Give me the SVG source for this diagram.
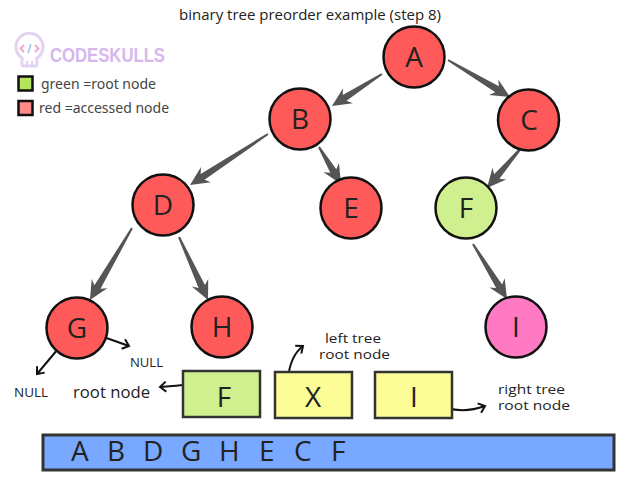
<svg xmlns="http://www.w3.org/2000/svg" width="640" height="480" viewBox="0 0 640 480">
<style>
.node{stroke:#111;stroke-width:2.5}
.red{fill:#ff5a5a}
.green{fill:#d0f090}
.pink{fill:#ff7ac2}
.lt{font-family:"Open Sans","Noto Sans",sans-serif;font-size:28px;fill:#222;text-anchor:middle}
.arr{fill:#555}
.thin{fill:none;stroke:#111;stroke-width:2}
.lbl{font-family:"Open Sans","Noto Sans",sans-serif;fill:#222}
.leg{font-family:"Noto Sans","Open Sans",sans-serif;font-size:14px;fill:#444}
.box{stroke:#333;stroke-width:2.5}
</style>
<defs>
<marker id="v" markerUnits="userSpaceOnUse" markerWidth="14" markerHeight="14" viewBox="-8 -7 10 14" refX="0" refY="0" orient="auto">
<path d="M-6,-5 L0,0 L-6,5" fill="none" stroke="#111" stroke-width="2"/>
</marker>
</defs>
<rect width="640" height="480" fill="#fff"/>
<text x="310" y="20" class="lbl" font-size="15" text-anchor="middle">binary tree preorder example (step 8)</text>
<g id="logo">
<path d="M22,58 A13.5,13.5 0 1 1 37,58 L37,64 Q37,66 35,66 L24,66 Q22,66 22,64 Z" fill="none" stroke="#e3d2f2" stroke-width="3"/>
<path d="M27,61 L27,66 M32,61 L32,66" stroke="#e3d2f2" stroke-width="2"/>
<path d="M24,45 L20.5,48.5 L24,52 M35,45 L38.5,48.5 L35,52" fill="none" stroke="#f6a6cf" stroke-width="2"/>
<path d="M31,44 L28,53" stroke="#9cc0ee" stroke-width="1.5"/>
<text x="50" y="62" font-family="Liberation Sans,sans-serif" font-size="20" font-weight="bold" fill="#d6b8ec" textLength="115" lengthAdjust="spacingAndGlyphs">CODESKULLS</text>
</g>
<g id="legend">
<rect x="18.5" y="76.5" width="14" height="14" fill="#b5e35a" stroke="#111" stroke-width="2.5"/>
<text x="41" y="89" class="leg">green =root node</text>
<rect x="18.5" y="101" width="14" height="14" fill="#ff8a8a" stroke="#111" stroke-width="2.5"/>
<text x="39" y="113" class="leg" font-size="13.5">red =accessed node</text>
</g>
<g id="connectors">
<polygon class="arr" transform="translate(382,74) rotate(147.4)" points="0,-1 44.4,-3.5 40.4,-9 59.4,0 40.4,9 44.4,3.5 0,1"/>
<polygon class="arr" transform="translate(448,60) rotate(30.8)" points="0,-1 57.2,-3.5 53.2,-9 72.2,0 53.2,9 57.2,3.5 0,1"/>
<polygon class="arr" transform="translate(522,147) rotate(130.5)" points="0,-1 38.9,-3.5 34.9,-9 53.9,0 34.9,9 38.9,3.5 0,1"/>
<polygon class="arr" transform="translate(319,147) rotate(59.3)" points="0,-1 28,-3.5 24,-9 43,0 24,9 28,3.5 0,1"/>
<polygon class="arr" transform="translate(268,134) rotate(146.8)" points="0,-1 78.2,-3.5 74.2,-9 93.2,0 74.2,9 78.2,3.5 0,1"/>
<polygon class="arr" transform="translate(132,228) rotate(120.3)" points="0,-1 68.4,-3.5 64.4,-9 83.4,0 64.4,9 68.4,3.5 0,1"/>
<polygon class="arr" transform="translate(179,237) rotate(65.3)" points="0,-1 54.4,-3.5 50.4,-9 69.4,0 50.4,9 54.4,3.5 0,1"/>
<polygon class="arr" transform="translate(473,244) rotate(58.3)" points="0,-1 49.7,-3.5 45.7,-9 64.7,0 45.7,9 49.7,3.5 0,1"/>
<path class="thin" d="M98,335 L129,346" marker-end="url(#v)"/>
<path class="thin" d="M63,343 L37,374" marker-end="url(#v)"/>
<path class="thin" d="M192,384 Q176,386 160,387" marker-end="url(#v)"/>
<path class="thin" d="M288,380 C289,365 294,353 303,346" marker-end="url(#v)"/>
<path class="thin" d="M447,408 C461,412 474,410 485,406" marker-end="url(#v)"/>
</g>
<g id="node-A"><circle class="node red" cx="414" cy="57" r="30.5"/><text class="lt" x="414" y="67">A</text></g>
<g id="node-B"><circle class="node red" cx="300" cy="119" r="30.5"/><text class="lt" x="300" y="129">B</text></g>
<g id="node-C"><circle class="node red" cx="528.5" cy="120" r="30.5"/><text class="lt" x="529" y="130">C</text></g>
<g id="node-D"><circle class="node red" cx="163" cy="205" r="30.5"/><text class="lt" x="163" y="215">D</text></g>
<g id="node-E"><circle class="node red" cx="351" cy="208" r="30.5"/><text class="lt" x="351" y="218">E</text></g>
<g id="node-F"><circle class="node green" cx="466" cy="208" r="30.5"/><text class="lt" x="466" y="218">F</text></g>
<g id="node-G"><circle class="node red" cx="77" cy="328" r="30.5"/><text class="lt" x="77" y="338">G</text></g>
<g id="node-H"><circle class="node red" cx="222" cy="327" r="30.5"/><text class="lt" x="222" y="337">H</text></g>
<g id="node-I"><circle class="node pink" cx="516" cy="327" r="30.5"/><text class="lt" x="516" y="337">I</text></g>
<text x="130" y="367" class="lbl" font-size="12.5" textLength="33" lengthAdjust="spacingAndGlyphs">NULL</text>
<text x="14" y="397" class="lbl" font-size="12.5" textLength="34" lengthAdjust="spacingAndGlyphs">NULL</text>
<text x="73" y="398" class="lbl" font-size="16.5" textLength="77" lengthAdjust="spacingAndGlyphs">root node</text>
<text x="325" y="343" class="lbl" font-size="12" textLength="56" lengthAdjust="spacingAndGlyphs">left tree</text>
<text x="319" y="359" class="lbl" font-size="12" textLength="71" lengthAdjust="spacingAndGlyphs">root node</text>
<text x="498" y="394" class="lbl" font-size="12" textLength="67" lengthAdjust="spacingAndGlyphs">right tree</text>
<text x="498" y="410" class="lbl" font-size="12" textLength="72" lengthAdjust="spacingAndGlyphs">root node</text>
<g id="box-F"><rect class="box" x="183" y="371" width="77" height="46" fill="#d0f090"/><text class="lt" x="224" y="407" font-size="40">F</text></g>
<g id="box-X"><rect class="box" x="275" y="372" width="77" height="46" fill="#fdfd98"/><text class="lt" x="313" y="407" font-size="40">X</text></g>
<g id="box-I"><rect class="box" x="375" y="372" width="77" height="46" fill="#fdfd98"/><text class="lt" x="414" y="407" font-size="40">I</text></g>
<g id="result">
<rect x="43" y="435" width="571" height="35" fill="#78a8ff" stroke="#333" stroke-width="3"/>
<text class="lt" style="text-anchor:start" y="461" font-size="27" x="71 90 107 126 143 163 181 201 219 240 259 278 294 315 331">A B D G H E C F</text>
</g>
</svg>
